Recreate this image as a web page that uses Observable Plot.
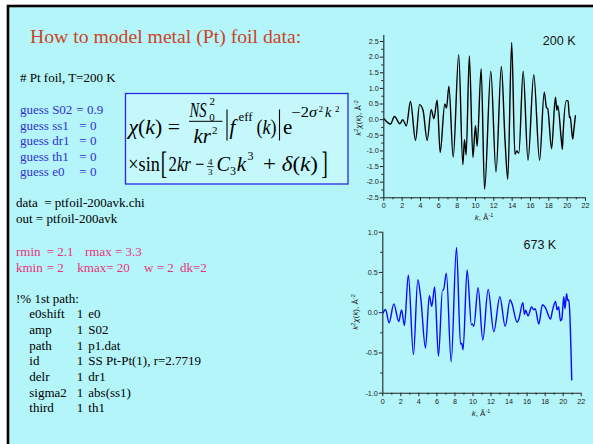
<!DOCTYPE html>
<html><head><meta charset="utf-8">
<script src="https://cdn.jsdelivr.net/npm/d3@7"></script>
<script src="https://cdn.jsdelivr.net/npm/@observablehq/plot@0.6"></script>
<style>
html,body{margin:0;padding:0;background:#fff;}
#stage{position:relative;width:593px;height:444px;overflow:hidden;}
#stage > svg{position:absolute;}
</style></head><body><div id="stage"></div>
<script>
// ---------- data ----------
const k200 = [0.05,0.73,1.17,1.75,2.07,2.46,2.91,3.46,3.9,4.28,4.73,5.17,5.46,5.82,6.15,6.65,6.84,7.1,7.57,8.17,8.62,8.8,8.98,9.33,9.72,10.0,10.18,10.62,10.99,11.67,12.24,12.82,13.22,13.52,13.95,14.3,14.5,14.73,15.2,15.73,16.36,16.99,17.5,17.75,17.87,18.3,18.72,18.88,18.98,19.35,19.48,19.55,19.92,20.1,20.25,20.33,20.6,20.72,20.9];
const chi200 = [0.02,-0.14,0.1,-0.13,0.0,-0.2,0.58,-0.66,0.48,0.3,-0.66,0.32,0.03,0.62,-1.05,0.5,0.37,1.07,-1.2,2.08,-1.44,-0.64,-1.13,2.04,-1.21,-0.19,-0.85,1.63,-2.23,1.55,-1.68,1.7,-0.64,-1.91,2.47,-1.11,-1.0,-1.07,1.55,-1.3,1.44,-1.3,0.88,0.38,0.36,-0.93,0.72,0.3,0.45,-0.61,-0.95,-0.5,0.61,0.6,0.06,0.1,-0.62,-0.35,0.13];
const k673 = [0.04,0.3,0.7,1.22,1.77,2.08,2.4,2.83,3.4,3.88,4.22,4.73,5.16,5.43,5.75,6.17,6.62,6.72,7.05,7.58,8.17,8.62,8.75,8.9,9.35,9.83,9.95,10.09,10.57,11.09,11.68,12.31,12.98,13.57,14.12,14.3,14.9,15.08,15.53,15.7,15.85,16.1,16.5,16.75,16.9,17.3,17.7,18.04,18.6,18.8,19.15,19.33,19.5,19.7,19.85,20.07,20.2,20.38,20.5,20.6,20.7,20.95];
const chi673 = [0.0,0.04,-0.125,0.11,-0.11,0.035,-0.16,0.47,-0.52,0.41,0.17,-0.44,0.21,0.08,0.32,-0.54,0.28,0.28,0.49,-0.61,0.81,-0.39,-0.38,-0.46,0.53,-0.15,-0.14,-0.17,0.31,-0.34,0.29,-0.235,0.2,-0.17,0.16,0.12,-0.12,-0.08,0.125,-0.02,0.03,-0.04,0.07,0.035,0.05,-0.14,0.1,0.06,-0.08,0.02,0.14,0.035,0.075,-0.1,-0.08,0.2,0.05,0.235,0.15,0.16,0.07,-0.835];
const xTicks = [0,2,4,6,8,10,12,14,16,18,20,22];
const xMinorTicks = [1,3,5,7,9,11,13,15,17,19,21];
const yTicks200 = [-2.5,-2,-1.5,-1,-0.5,0,0.5,1,1.5,2,2.5];
const yMinor200 = [-2.25,-1.75,-1.25,-0.75,-0.25,0.25,0.75,1.25,1.75,2.25];
const yTicks673 = [-1,-0.5,0,0.5,1];
const yMinor673 = [-0.75,-0.25,0.25,0.75];
const label200 = "200 K";
const label673 = "673 K";

const titleText = "How to model metal (Pt) foil data:";
const headerText = "# Pt foil, T=200 K";
const guessNames = ["guess S02","guess ss1","guess dr1","guess th1","guess e0"];
const guessValues = ["= 0.9","= 0","= 0","= 0","= 0"];
const fileLines = ["data  = ptfoil-200avk.chi","out = ptfoil-200avk"];
const rLine = ["rmin","= 2.1","rmax = 3.3"];
const kLine = ["kmin","= 2","kmax= 20","w = 2","dk=2"];
const pathHead = "!% 1st path:";
const pathKeys = ["e0shift","amp","path","id","delr","sigma2","third"];
const pathIdx = ["1","1","1","1","1","1","1"];
const pathVals = ["e0","S02","p1.dat","SS Pt-Pt(1), r=2.7719","dr1","abs(ss1)","th1"];

// ---------- style ----------
const BG = "#b4f5f9";
const SERIF = "'Liberation Serif','Times New Roman',serif";
const SANS = "'Liberation Sans',Arial,sans-serif";
const stage = d3.select("#stage");

// ---------- slide background & text ----------
const svg = stage.append("svg").attr("width",593).attr("height",444).style("left","0px").style("top","0px");
svg.append("rect").attr("width",593).attr("height",444).attr("fill","#fff");
svg.append("rect").attr("x",8).attr("y",6).attr("width",700).attr("height",600)
  .attr("fill",BG).attr("stroke","#000").attr("stroke-width",2.6);

function txt(x,y,s,o={}){
  const t = svg.append("text").attr("x",x).attr("y",y)
    .attr("font-family",o.family||SERIF).attr("font-size",o.size||13)
    .attr("fill",o.fill||"#000").attr("text-anchor",o.anchor||"start")
    .style("white-space","pre");
  if (o.italic) t.attr("font-style","italic");
  if (o.transform) t.attr("transform",o.transform);
  if (o.len) t.attr("textLength",o.len).attr("lengthAdjust","spacingAndGlyphs");
  if (Array.isArray(s)) {
    for (const p of s) {
      const ts = t.append("tspan").text(p.t);
      if (p.i) ts.attr("font-style","italic");
      if (p.dy) ts.attr("dy",p.dy);
      if (p.s) ts.attr("font-size",p.s);
    }
  } else t.text(s);
  return t;
}

txt(30,42.7,titleText,{size:19.7,fill:"#cc4426"});
txt(20,81.7,headerText,{size:13});
const BLUE = "#3030d8", PINK = "#e8327c";
guessNames.forEach((g,i)=>{
  const y = 114 + i*15.5;
  txt(20,y,g,{size:13,fill:BLUE});
  txt(i===0?76.3:79.3,y,guessValues[i],{size:13,fill:BLUE});
});
fileLines.forEach((l,i)=>txt(16,207+i*16.3,l,{size:13}));
txt(16,256,rLine[0],{size:13,fill:PINK});
txt(46.7,256,rLine[1],{size:13,fill:PINK});
txt(85,256,rLine[2],{size:13,fill:PINK});
[16,46.7,77.3,144,180].forEach((x,i)=>txt(x,271.7,kLine[i],{size:13,fill:PINK}));
txt(16,302.7,pathHead,{size:13});
pathKeys.forEach((k,i)=>{
  const y = 318.3 + i*15.66;
  txt(29.3,y,k,{size:13});
  txt(76.7,y,pathIdx[i],{size:13});
  txt(88.3,y,pathVals[i],{size:13});
});

// ---------- formula box ----------
svg.append("rect").attr("x",125.5).attr("y",93.5).attr("width",222.5).attr("height",90.5)
  .attr("fill","#c4f8fb").attr("stroke","#2a2ae6").attr("stroke-width",1.3);
const F = 21;
txt(128.5,133.5,[{t:"χ",i:1},{t:"("},{t:"k",i:1},{t:") ="}],{size:F,len:51.5});
txt(189.5,116.5,[{t:"NS",i:1}],{size:F,len:17});
txt(209.3,121,"0",{size:11});
txt(209.6,104.5,"2",{size:11});
svg.append("line").attr("x1",189).attr("x2",222.5).attr("y1",121.3).attr("y2",121.3).attr("stroke","#000").attr("stroke-width",1);
txt(193.5,143.3,[{t:"kr",i:1}],{size:F,len:17.5});
txt(212,133.5,"2",{size:11});
svg.append("line").attr("x1",227).attr("x2",227).attr("y1",109.5).attr("y2",140.5).attr("stroke","#000").attr("stroke-width",1.1);
txt(229.5,133.5,[{t:"f",i:1}],{size:F});
txt(238.5,120.5,"eff",{size:12.5,len:14});
txt(256.5,133.5,[{t:"("},{t:"k",i:1},{t:")"}],{size:F,len:20});
svg.append("line").attr("x1",279.5).attr("x2",279.5).attr("y1",109.5).attr("y2",140.5).attr("stroke","#000").attr("stroke-width",1.1);
txt(283,133.5,"e",{size:F});
txt(291.5,117,[{t:"−2"},{t:"σ",i:1}],{size:14,len:25.5});
txt(318.5,112,"2",{size:9});
txt(325,117,[{t:"k",i:1}],{size:14});
txt(335,112,"2",{size:9});
// line 2
txt(128.3,171,"×sin",{size:F,len:31.5});
txt(160.8,174.4,"[",{size:31,len:6.3});
txt(168.5,171,[{t:"2"},{t:"kr",i:1},{t:" −"}],{size:F,len:36});
txt(210.3,165,"4",{size:9,anchor:"middle"});
svg.append("line").attr("x1",207).attr("x2",213.6).attr("y1",166.6).attr("y2",166.6).attr("stroke","#000").attr("stroke-width",0.8);
txt(210.3,174.5,"3",{size:9,anchor:"middle"});
txt(216.5,171,[{t:"C",i:1}],{size:F,len:13.5});
txt(230,175,"3",{size:12});
txt(236.7,171,[{t:"k",i:1}],{size:F});
txt(247.5,160,"3",{size:12});
txt(263,171,[{t:"+ "},{t:"δ",i:1},{t:"("},{t:"k",i:1},{t:")"}],{size:F,len:55});
txt(321.5,174.4,"]",{size:31,len:6.3});

// ---------- charts ----------
function chart(ks, vs, o){
  const data = ks.map((k,i)=>({k, v: vs[i]}));
  const p = Plot.plot({
    width: 253, height: 205,
    marginLeft: o.ml, marginRight: o.mr, marginTop: o.mt, marginBottom: o.mb,
    x: {domain:[0,22]}, y: {domain: o.yDomain},
    style: {background:"transparent", overflow:"visible", fontFamily: SANS, color:"#222"},
    marks: [
      Plot.axisY(o.yTicks, {tickSize:3.5, tickPadding:1.5, tickFormat:d=>d.toFixed(1), fontSize:7.2, label:null}),
      Plot.axisY(o.yMinor, {tickSize:2, tickFormat:()=>"", label:null}),
      Plot.axisX(xTicks, {tickSize:3.5, tickPadding:2, tickFormat:d=>String(d), fontSize:7.2, label:null}),
      Plot.axisX(xMinorTicks, {tickSize:2, tickFormat:()=>"", label:null}),
      Plot.ruleX([0], {y1:o.yDomain[0], y2:o.yTop, stroke:"#222", strokeWidth:1.1}),
      Plot.ruleY([o.yDomain[0]], {x1:0, x2:22, stroke:"#222", strokeWidth:1.1}),
      Plot.line(data, {x:"k", y:"v", curve:"monotone-x", stroke:o.color, strokeWidth:1.4}),
      Plot.text([o.label], {frameAnchor:"top-right", dx:o.ldx, dy:o.ldy, fontSize:12.5, fill:"#111", textAnchor:"end"})
    ]
  });
  p.style.left = o.left+"px"; p.style.top = o.top+"px";
  document.getElementById("stage").appendChild(p);
}
chart(k200, chi200, {left:340, top:20, ml:43.3, mr:8, mt:21, mb:27.7, yDomain:[-2.5,2.5], yTop:2.69,
  yTicks:yTicks200, yMinor:yMinor200, color:"#000", label:label200, ldx:-10, ldy:-5});
chart(k673, chi673, {left:340, top:220, ml:42.3, mr:12.3, mt:11.7, mb:32.3, yDomain:[-1,1], yTop:1,
  yTicks:yTicks673, yMinor:yMinor673, color:"#0a0aff", label:label673, ldx:-25, ldy:8});

// axis titles
function ylab(x,y){
  txt(0,0,[{t:"k",i:1},{t:"2",dy:-3,s:5.5},{t:"χ",i:1,dy:3},{t:"("},{t:"k",i:1},{t:"), Å"},{t:"-2",dy:-3,s:5.5}],
    {family:SANS,size:8,anchor:"middle",transform:`translate(${x},${y}) rotate(-90)`,fill:"#222"});
}
function xlab(x,y){
  txt(x,y,[{t:"k",i:1},{t:", Å"},{t:"-1",dy:-3,s:5.5}],{family:SANS,size:8,anchor:"middle",fill:"#222"});
}
ylab(361,118); ylab(358,312);
xlab(484,220); xlab(481,416);
</script></body></html>
